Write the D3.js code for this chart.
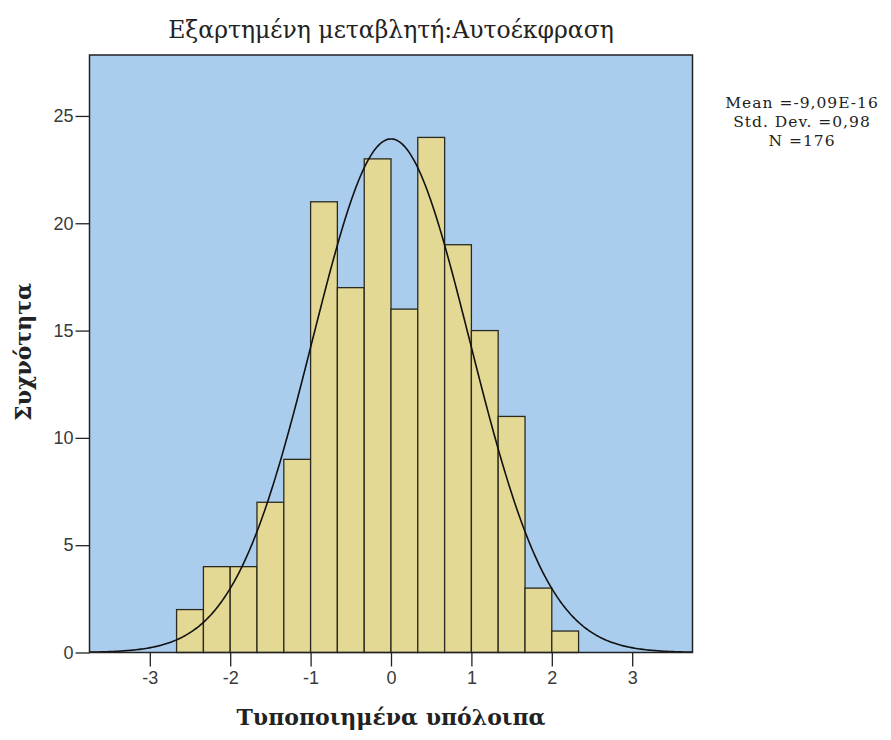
<!DOCTYPE html>
<html>
<head>
<meta charset="utf-8">
<script src="https://cdn.jsdelivr.net/npm/d3@7"></script>
<style>
  body { margin: 0; background: #fff; }
</style>
</head>
<body>
<div id="chart"></div>
<script>
// histogram data
var binEdges = [-2.667, -2.333, -2.0, -1.667, -1.333, -1.0, -0.667, -0.333, 0.0,
                0.333, 0.667, 1.0, 1.333, 1.667, 2.0, 2.333];
var counts = [2, 4, 4, 7, 9, 21, 17, 23, 16, 24, 19, 15, 11, 3, 1];
var xTicks = [-3, -2, -1, 0, 1, 2, 3];
var yTicks = [0, 5, 10, 15, 20, 25];
var statLines = ["Mean =-9,09E-16", "Std. Dev. =0,98", "N =176"];
var meanVal = -9.09e-16, sdVal = 0.98, nVal = 176;

var titleText = "Εξαρτημένη μεταβλητή:Αυτοέκφραση";
var xLabel = "Τυποποιημένα υπόλοιπα";
var yLabel = "Συχνότητα";

// set the dimensions and margins of the graph
var margin = { top: 55, right: 198.5, bottom: 87.5, left: 89.5 },
    W = 891, H = 740,
    width = W - margin.left - margin.right,
    height = H - margin.top - margin.bottom;

var svg = d3.select("#chart")
    .append("svg")
    .attr("width", W)
    .attr("height", H);

var g = svg.append("g")
    .attr("transform", "translate(" + margin.left + "," + margin.top + ")");

var x = d3.scaleLinear().domain([-3.75, 3.75]).range([0, width]);
var y = d3.scaleLinear().domain([0, 27.84]).range([height, 0]);

// plot background
g.append("rect")
    .attr("width", width)
    .attr("height", height)
    .attr("fill", "#aacdee");

// bars
var bins = counts.map(function (c, i) {
    return { x0: binEdges[i], x1: binEdges[i + 1], n: c };
});
g.selectAll(".bar")
    .data(bins)
    .enter()
    .append("rect")
    .attr("class", "bar")
    .attr("x", function (d) { return x(d.x0); })
    .attr("width", function (d) { return x(d.x1) - x(d.x0); })
    .attr("y", function (d) { return y(d.n); })
    .attr("height", function (d) { return y(0) - y(d.n); })
    .attr("fill", "#e4d994")
    .attr("stroke", "#2a2a20")
    .attr("stroke-width", 1.3);

// normal curve scaled to counts
var binW = binEdges[1] - binEdges[0];
var curvePts = d3.range(-3.75, 3.751, 0.02).map(function (v) {
    var z = (v - meanVal) / sdVal;
    return [v, nVal * binW * Math.exp(-0.5 * z * z) / (sdVal * Math.sqrt(2 * Math.PI))];
});
g.append("path")
    .datum(curvePts)
    .attr("fill", "none")
    .attr("stroke", "#111")
    .attr("stroke-width", 1.6)
    .attr("d", d3.line()
        .x(function (d) { return x(d[0]); })
        .y(function (d) { return y(d[1]); }));

// frame
g.append("rect")
    .attr("width", width)
    .attr("height", height)
    .attr("fill", "none")
    .attr("stroke", "#222")
    .attr("stroke-width", 1.5);

// axes (plain hyphen minus like the original)
var fmt = function (d) { return String(d); };
var yAxis = g.append("g")
    .call(d3.axisLeft(y).tickValues(yTicks).tickSize(14).tickPadding(2).tickFormat(fmt));
var xAxis = g.append("g")
    .attr("transform", "translate(0," + height + ")")
    .call(d3.axisBottom(x).tickValues(xTicks).tickSize(14).tickPadding(5).tickFormat(fmt));

[xAxis, yAxis].forEach(function (a) {
    a.select(".domain").remove();
    a.selectAll(".tick line").attr("stroke", "#222").attr("stroke-width", 1.3);
    a.selectAll(".tick text")
        .attr("fill", "#3a3a3a")
        .style("font-family", "'Liberation Sans', Arial, sans-serif")
        .style("font-size", "18px");
});

// title
svg.append("text")
    .attr("x", margin.left + x(0))
    .attr("y", 38)
    .attr("text-anchor", "middle")
    .style("font-family", "'DejaVu Serif', serif")
    .style("font-size", "23.5px")
    .attr("fill", "#222")
    .text(titleText);

// axis titles
svg.append("text")
    .attr("x", margin.left + x(0))
    .attr("y", 725)
    .attr("text-anchor", "middle")
    .style("font-family", "'DejaVu Serif', serif")
    .style("font-weight", "bold")
    .style("font-size", "22px")
    .attr("fill", "#222")
    .text(xLabel);

svg.append("text")
    .attr("transform", "translate(31," + 352 + ") rotate(-90)")
    .attr("text-anchor", "middle")
    .style("font-family", "'DejaVu Serif', serif")
    .style("font-weight", "bold")
    .style("font-size", "22px")
    .attr("fill", "#222")
    .text(yLabel);

// stats box
svg.selectAll(".stat")
    .data(statLines)
    .enter()
    .append("text")
    .attr("class", "stat")
    .attr("x", 802)
    .attr("y", function (d, i) { return 108 + i * 19; })
    .attr("text-anchor", "middle")
    .style("font-family", "'DejaVu Serif', serif")
    .style("font-size", "15.5px")
    .style("letter-spacing", "1px")
    .attr("fill", "#222")
    .text(function (d) { return d; });
</script>
</body>
</html>
